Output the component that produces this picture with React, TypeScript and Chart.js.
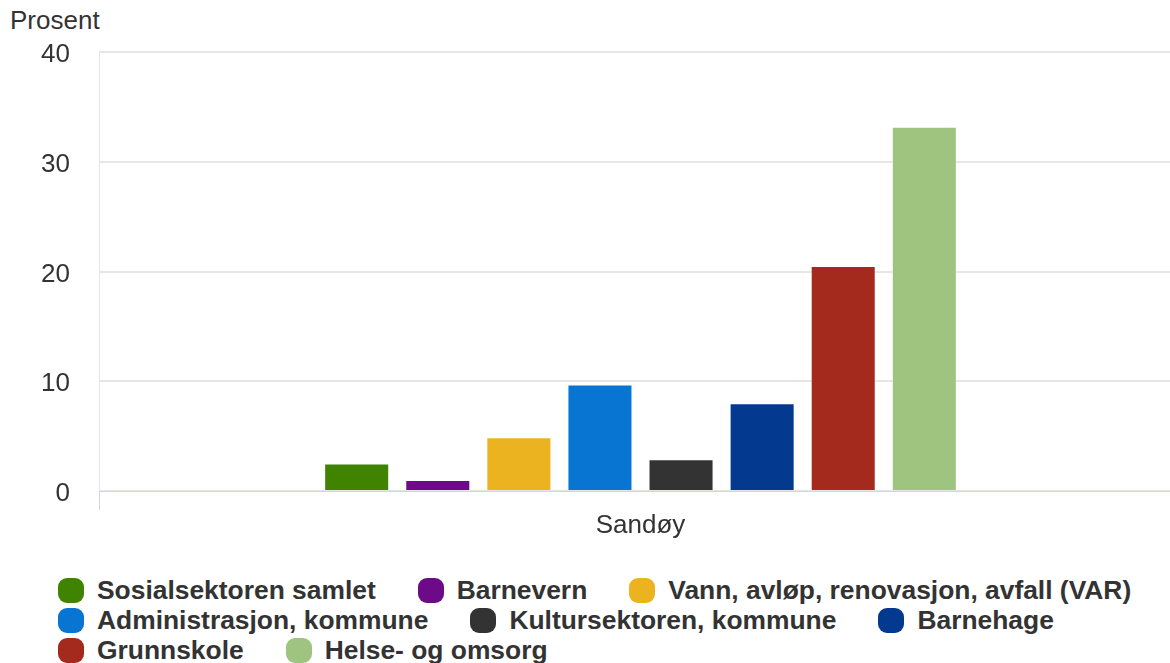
import React, { useEffect, useRef } from "react";
import { Chart, registerables } from "chart.js";

Chart.register(...registerables);

const categories = ["Sandøy"];
const seriesNames = [
  "Sosialsektoren samlet",
  "Barnevern",
  "Vann, avløp, renovasjon, avfall (VAR)",
  "Administrasjon, kommune",
  "Kultursektoren, kommune",
  "Barnehage",
  "Grunnskole",
  "Helse- og omsorg",
];
const seriesValues = [2.5, 1.0, 4.9, 9.7, 2.9, 8.0, 20.5, 33.2];
const seriesColors = [
  "#408300",
  "#6c0a88",
  "#ebb31f",
  "#0975d2",
  "#333333",
  "#033a8f",
  "#a52a1e",
  "#9fc47f",
];
const yTicks = [0, 10, 20, 30, 40];
const yTitle = "Prosent";

const FONT = '"Liberation Sans", Arial, sans-serif';

export default function App() {
  const ref = useRef<HTMLCanvasElement | null>(null);

  useEffect(() => {
    document.body.style.margin = "0";
    const canvas = ref.current;
    if (!canvas) return;
    const chart = new Chart(canvas, {
      type: "bar",
      data: {
        labels: categories,
        datasets: seriesNames.map((name, i) => ({
          label: name,
          data: [seriesValues[i]],
          backgroundColor: seriesColors[i],
          borderColor: "rgba(255,255,255,0.5)",
          borderWidth: 1,
          categoryPercentage: 0.599,
          barPercentage: 0.802,
        })),
      },
      options: {
        responsive: false,
        animation: false,
        devicePixelRatio: 1,
        layout: { padding: { top: 52, left: 0, right: 0, bottom: 0 } },
        plugins: {
          legend: { display: false },
          tooltip: { enabled: false },
          title: { display: false },
        },
        scales: {
          x: {
            offset: true,
            grid: {
              display: true,
              offset: true,
              color: "#e6e6e6",
              tickColor: "#ccd6eb",
              tickLength: 19,
              drawOnChartArea: true,
            },
            border: { display: true, color: "#ccd6eb", width: 1 },
            ticks: {
              padding: 0,
              color: "#333333",
              font: { family: FONT, size: 26 },
            },
            afterFit: (s: any) => {
              s.height = 69;
            },
          },
          y: {
            min: yTicks[0],
            max: yTicks[yTicks.length - 1],
            afterBuildTicks: (s: any) => {
              s.ticks = yTicks.map((v) => ({ value: v }));
            },
            grid: { color: "#e6e6e6", lineWidth: 2, drawTicks: false },
            border: { display: false },
            ticks: {
              padding: 29,
              labelOffset: 3,
              color: "#333333",
              font: { family: FONT, size: 26 },
            },
            afterFit: (s: any) => {
              s.width = 99;
            },
          },
        },
      },
    });
    return () => chart.destroy();
  }, []);

  return (
    <div
      style={{
        position: "fixed",
        left: 0,
        top: 0,
        width: 1170,
        height: 663,
        overflow: "hidden",
        background: "#fff",
        fontFamily: FONT,
      }}
    >
      <div
        style={{
          position: "absolute",
          left: 10,
          top: 6,
          fontSize: 26,
          lineHeight: "28px",
          color: "#333333",
        }}
      >
        {yTitle}
      </div>
      <canvas
        ref={ref}
        width={1182}
        height={560}
        style={{ position: "absolute", left: 0, top: 0, width: 1182, height: 560 }}
      />
      <div
        style={{
          position: "absolute",
          left: 58,
          top: 575,
          width: 1112,
          display: "flex",
          flexWrap: "wrap",
          columnGap: 42,
        }}
      >
        {seriesNames.map((name, i) => (
          <div
            key={name}
            style={{
              display: "flex",
              alignItems: "center",
              height: 30,
            }}
          >
            <span
              style={{
                display: "inline-block",
                width: 26,
                height: 25,
                borderRadius: 9,
                background: seriesColors[i],
                marginRight: 13,
              }}
            />
            <span
              style={{
                fontWeight: "bold",
                fontSize: 26.4,
                color: "#333333",
                whiteSpace: "nowrap",
                lineHeight: "30px",
              }}
            >
              {name}
            </span>
          </div>
        ))}
      </div>
    </div>
  );
}
